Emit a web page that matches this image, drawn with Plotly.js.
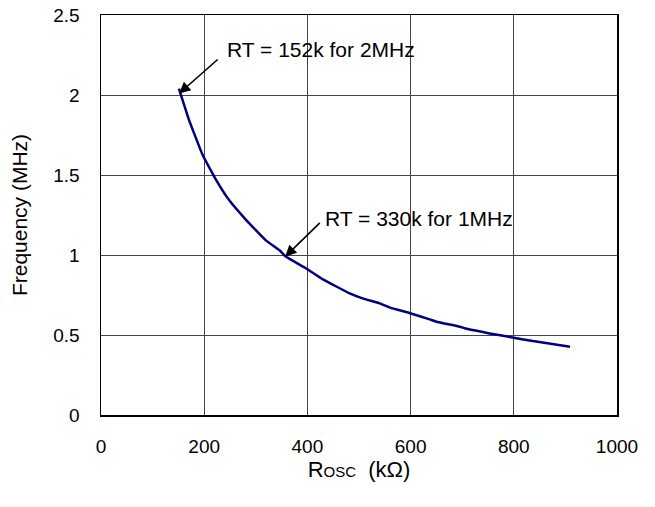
<!DOCTYPE html>
<html>
<head>
<meta charset="utf-8">
<script src="https://cdn.plot.ly/plotly-3.0.1.min.js"></script>
<style>html,body{margin:0;padding:0;background:#fff;}#chart{width:655px;height:507px;}</style>
</head>
<body>
<div id="chart"></div>
<script>
// Rosc (kOhm)
var rosc = [151, 171, 197, 223, 249, 281, 320, 346, 358, 397, 430, 482, 507, 540, 559, 599, 637, 650, 695, 711, 753, 800, 837, 909];
// Frequency (MHz)
var freq = [2.04, 1.84, 1.625, 1.47, 1.34, 1.22, 1.09, 1.03, 0.99, 0.917, 0.848, 0.76, 0.729, 0.698, 0.673, 0.636, 0.598, 0.583, 0.552, 0.537, 0.51, 0.483, 0.462, 0.427];
var xTicks = [0, 200, 400, 600, 800, 1000];
var yTicks = [0, 0.5, 1, 1.5, 2, 2.5];
var yTickText = ["0", "0.5", "1", "1.5", "2", "2.5"];
var noteText = ["RT = 152k for 2MHz", "RT = 330k for 1MHz"];
var noteHead = [[151.5, 2.01], [357, 0.99]];
var noteTail = [[229, 2.23], [427, 1.21]];
var notePos = [[240, 2.284], [431, 1.229]];

var font = "Liberation Sans, Arial, sans-serif";
var trace = {
  x: rosc, y: freq, type: "scatter", mode: "lines",
  line: {color: "#000080", width: 2.5, shape: "spline", smoothing: 0.3},
  hoverinfo: "none"
};
var ann = [];
for (var i = 0; i < noteText.length; i++) {
  ann.push({x: noteHead[i][0], y: noteHead[i][1], ax: noteTail[i][0], ay: noteTail[i][1],
    axref: "x", ayref: "y", xref: "x", yref: "y", text: "", showarrow: true,
    arrowhead: 2, arrowsize: 1.4, arrowwidth: 1.6, arrowcolor: "#000"});
  ann.push({x: notePos[i][0], y: notePos[i][1], xref: "x", yref: "y", text: noteText[i],
    showarrow: false, xanchor: "left", yanchor: "middle",
    font: {family: font, size: 21, color: "#000"}});
}
var layout = {
  width: 655, height: 507,
  margin: {l: 101, r: 38, t: 15, b: 92},
  paper_bgcolor: "#fff", plot_bgcolor: "#fff",
  showlegend: false,
  font: {family: font, size: 19, color: "#000"},
  xaxis: {
    range: [0, 1000], tickvals: xTicks, ticktext: xTicks.map(String),
    showgrid: true, gridcolor: "#444", gridwidth: 1, zeroline: false,
    showline: true, linecolor: "#000", linewidth: 1.5, mirror: true,
    ticks: "outside", ticklen: 14, tickcolor: "rgba(0,0,0,0)",
    tickfont: {family: font, size: 19},
    title: {text: "R<span style='font-size:15px'>OSC</span>  (kΩ)", font: {family: font, size: 22}, standoff: 4}
  },
  yaxis: {
    range: [0, 2.5], tickvals: yTicks, ticktext: yTickText,
    showgrid: true, gridcolor: "#444", gridwidth: 1, zeroline: false,
    showline: true, linecolor: "#000", linewidth: 1.5, mirror: true,
    ticks: "outside", ticklen: 16, tickcolor: "rgba(0,0,0,0)",
    tickfont: {family: font, size: 19},
    title: {text: "Frequency (MHz)", font: {family: font, size: 21}, standoff: 20}
  },
  annotations: ann
};
Plotly.newPlot("chart", [trace], layout, {displayModeBar: false, staticPlot: true});
</script>
</body>
</html>
